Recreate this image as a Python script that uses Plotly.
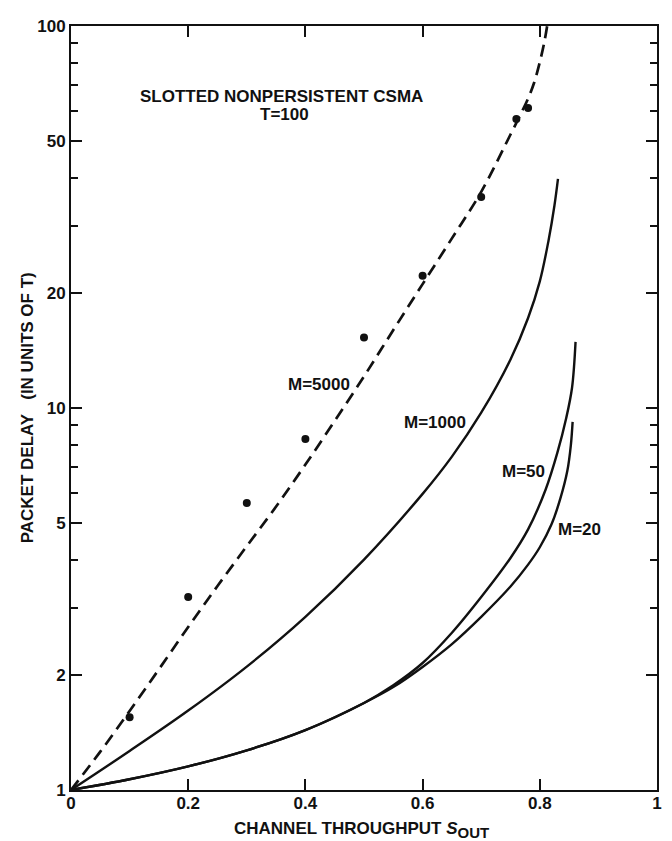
import math
import plotly.graph_objects as go

# Packet delay vs. channel throughput, slotted nonpersistent CSMA (T=100)
x_m5000 = [0, 0.05, 0.10, 0.15, 0.20, 0.25, 0.30, 0.35, 0.40, 0.45, 0.50, 0.55,
           0.60, 0.65, 0.70, 0.75, 0.765, 0.78, 0.79, 0.80, 0.808, 0.8125]
y_m5000 = [1.0, 1.26, 1.61, 2.07, 2.67, 3.42, 4.35, 5.52, 7.11, 9.25, 12.1, 16.0,
           21.1, 27.8, 36.8, 52.0, 57.8, 64.6, 70.8, 80.4, 91.2, 100.0]

x_m1000 = [0, 0.10, 0.20, 0.30, 0.40, 0.50, 0.60, 0.65, 0.70, 0.75, 0.78, 0.80,
           0.815, 0.825, 0.831]
y_m1000 = [1.0, 1.265, 1.614, 2.104, 2.84, 4.01, 5.96, 7.46, 9.72, 13.4, 17.2, 21.45,
           27.5, 33.9, 39.8]

x_m50 = [0, 0.10, 0.20, 0.30, 0.40, 0.50, 0.55, 0.60, 0.65, 0.70, 0.75, 0.78,
         0.81, 0.83, 0.845, 0.855, 0.861]
y_m50 = [1.0, 1.067, 1.153, 1.27, 1.435, 1.69, 1.88, 2.15, 2.58, 3.20, 4.05, 4.81,
         6.12, 7.64, 9.4, 11.3, 14.9]

x_m20 = [0, 0.10, 0.20, 0.30, 0.40, 0.50, 0.55, 0.60, 0.65, 0.70, 0.75, 0.78,
         0.80, 0.82, 0.835, 0.847, 0.853, 0.856]
y_m20 = [1.0, 1.067, 1.153, 1.27, 1.435, 1.69, 1.86, 2.10, 2.41, 2.84, 3.41, 3.89,
         4.32, 4.96, 5.79, 6.85, 8.0, 9.2]

# simulation points
x_sim = [0.1, 0.2, 0.3, 0.4, 0.5, 0.6, 0.7, 0.76, 0.78]
y_sim = [1.55, 3.20, 5.64, 8.30, 15.3, 22.2, 35.7, 57.1, 61.0]

x_ticks = [0, 0.2, 0.4, 0.6, 0.8, 1]
x_ticklabels = ["0", "0.2", "0.4", "0.6", "0.8", "1"]
y_ticks = [1, 2, 5, 10, 20, 50, 100]
y_ticklabels = ["1", "2", "5", "10", "20", "50", "100"]
y_minor = [3, 4, 6, 7, 8, 9, 30, 40, 60, 70, 80, 90]

curve_labels = ["M=5000", "M=1000", "M=50", "M=20"]
label_x = [0.424, 0.622, 0.773, 0.868]
label_y = [11.5, 9.14, 6.84, 4.82]

FONT = "Liberation Sans"
INK = "#111111"


def txt_font(size=17):
    return dict(family=FONT, size=size, color=INK, weight="bold")


fig = go.Figure()
fig.add_trace(go.Scatter(x=x_m5000, y=y_m5000, mode="lines",
                         line=dict(color=INK, width=2.7, dash="12px,7px", shape="spline")))
for xs, ys in [(x_m1000, y_m1000), (x_m50, y_m50), (x_m20, y_m20)]:
    fig.add_trace(go.Scatter(x=xs, y=ys, mode="lines",
                             line=dict(color=INK, width=2.4, shape="spline")))
fig.add_trace(go.Scatter(x=x_sim, y=y_sim, mode="markers",
                         marker=dict(color=INK, size=8, line=dict(width=0))))

# annotation positions on a log axis are given in log10 units
for txt, lx, ly in zip(curve_labels, label_x, label_y):
    fig.add_annotation(x=lx, y=math.log10(ly), xref="x", yref="y", text=txt,
                       showarrow=False, font=txt_font(),
                       xanchor="center", yanchor="middle")

fig.add_annotation(x=0.359, y=math.log10(65.2), xref="x", yref="y",
                   text="SLOTTED NONPERSISTENT CSMA", showarrow=False,
                   font=txt_font(), xanchor="center", yanchor="middle")
fig.add_annotation(x=0.365, y=math.log10(58.6), xref="x", yref="y", text="T=100",
                   showarrow=False, font=txt_font(),
                   xanchor="center", yanchor="middle")

fig.add_annotation(x=-0.0745, y=0.5, xref="paper", yref="paper",
                   text="PACKET DELAY\u00a0\u00a0\u00a0(IN UNITS OF T)", textangle=-90,
                   showarrow=False, font=txt_font(),
                   xanchor="center", yanchor="middle")
fig.add_annotation(x=0.496, y=-0.053, xref="paper", yref="paper",
                   text="CHANNEL THROUGHPUT <i>S</i><sub><span style=\"font-size:15px\">OUT</span></sub>",
                   showarrow=False, font=txt_font(),
                   xanchor="center", yanchor="middle")

fig.update_xaxes(range=[0, 1], tickmode="array", tickvals=x_ticks, ticktext=x_ticklabels,
                 ticks="inside", ticklen=11, tickwidth=1.5, tickcolor=INK,
                 showline=True, linecolor=INK, linewidth=2, mirror="ticks",
                 showgrid=False, zeroline=False, tickfont=txt_font(),
                 ticklabelstandoff=-3)
fig.update_yaxes(type="log", range=[0, 2], tickmode="array", tickvals=y_ticks,
                 ticktext=y_ticklabels, ticks="inside", ticklen=11, tickwidth=1.5,
                 tickcolor=INK, showline=True, linecolor=INK, linewidth=2, mirror="ticks",
                 showgrid=False, zeroline=False,
                 minor=dict(tickmode="array", tickvals=y_minor, ticks="inside", ticklen=7,
                            tickwidth=1.5, tickcolor=INK, showgrid=False),
                 tickfont=txt_font())

fig.update_layout(width=672, height=841, showlegend=False,
                  margin=dict(l=71, r=10, t=26, b=51),
                  paper_bgcolor="white", plot_bgcolor="white")

fig.write_html("out.html")
